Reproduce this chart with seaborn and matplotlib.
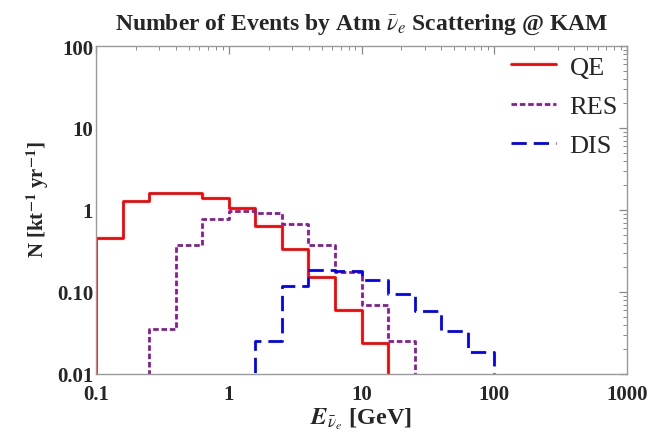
import numpy as np
import pandas as pd
import seaborn as sns
import matplotlib
matplotlib.use("Agg")
import matplotlib.pyplot as plt
from matplotlib.ticker import FixedLocator, NullFormatter

# Log-spaced bin edges (5 per decade), GeV
edges = [0.1, 0.1585, 0.2512, 0.3981, 0.631, 1.0, 1.585, 2.512, 3.981,
         6.310, 10.0, 15.85, 25.12, 39.81, 63.10, 100.0]

# QE: bins starting at edge index 0
qe_start = 0
qe_vals = [0.46, 1.30, 1.62, 1.62, 1.42, 1.06, 0.63, 0.33, 0.152, 0.061, 0.024]
# RES: bins starting at edge index 2 (0.251 GeV)
res_start = 2
res_vals = [0.035, 0.37, 0.78, 0.96, 0.92, 0.67, 0.37, 0.177, 0.069, 0.025]
# DIS: bins starting at edge index 6 (1.585 GeV)
dis_start = 6
dis_vals = [0.025, 0.12, 0.185, 0.18, 0.14, 0.095, 0.058, 0.033, 0.0183]

xticks = [0.1, 1, 10, 100, 1000]
xticklabels = ["0.1", "1", "10", "100", "1000"]
yticks = [0.01, 0.1, 1, 10, 100]
yticklabels = ["0.01", "0.10", "1", "10", "100"]

FLOOR = 0.003


def step_frame(start, vals):
    n = len(vals)
    xs = [edges[start]] + edges[start:start + n + 1] + [edges[start + n]]
    ys = [FLOOR] + list(vals) + [vals[-1], FLOOR]
    return pd.DataFrame({"E": xs, "N": ys})


sns.set_theme(style="white")
plt.rcParams["font.family"] = ["Liberation Serif", "DejaVu Serif"]
plt.rcParams["mathtext.fontset"] = "stix"

fig = plt.figure(figsize=(6.57, 4.39), dpi=100)
ax = fig.add_axes([96 / 657, 1 - 375 / 439, (627 - 96) / 657, (375 - 47) / 439])

series = [
    ("QE", qe_start, qe_vals, "#ff0000", "-"),
    ("RES", res_start, res_vals, "#8b1a9b", (0, (2.0, 1.0))),
    ("DIS", dis_start, dis_vals, "#0000ff", (0, (5.5, 2.5))),
]
for label, start, vals, color, ls in series:
    df = step_frame(start, vals)
    sns.lineplot(data=df, x="E", y="N", ax=ax, estimator=None, sort=False,
                 drawstyle="steps-post", color=color, linestyle=ls,
                 linewidth=2.0, label=label)

ax.set_xscale("log")
ax.set_yscale("log")
ax.set_xlim(0.1, 1000)
ax.set_ylim(0.01, 100)

ax.xaxis.set_major_locator(FixedLocator(xticks))
ax.set_xticklabels(xticklabels, fontweight="bold", fontsize=15)
ax.yaxis.set_major_locator(FixedLocator(yticks))
ax.set_yticklabels(yticklabels, fontweight="bold", fontsize=15)
ax.xaxis.set_minor_formatter(NullFormatter())
ax.yaxis.set_minor_formatter(NullFormatter())

ax.tick_params(which="both", direction="in", top=True, right=True,
               color="#888888")
ax.tick_params(axis="x", which="both", pad=7)
ax.tick_params(axis="y", which="both", pad=2)
ax.tick_params(which="major", length=6, width=0.9)
ax.tick_params(which="minor", length=3, width=0.7)
for s in ax.spines.values():
    s.set_color("#999999")
    s.set_linewidth(1.0)

ax.set_xlabel(r"$\mathbfit{E}_{\bar{\nu}_e}$ [GeV]", fontweight="bold",
              fontsize=17.5, labelpad=1)
ax.set_ylabel(r"N [kt$^{\mathbf{-1}}$ yr$^{\mathbf{-1}}$]", fontweight="bold",
              fontsize=15)
ax.yaxis.set_label_coords(-0.085, 0.535)
ax.set_title(r"Number of Events by Atm $\bar{\nu}_e$ Scattering @ KAM",
             fontweight="bold", fontsize=17, pad=12)

leg = ax.legend(loc="upper right", frameon=False, fontsize=19,
                handlelength=1.7, handletextpad=0.5, labelspacing=0.6,
                borderaxespad=0.3, borderpad=0.05)

fig.savefig("out.png", dpi=100)
